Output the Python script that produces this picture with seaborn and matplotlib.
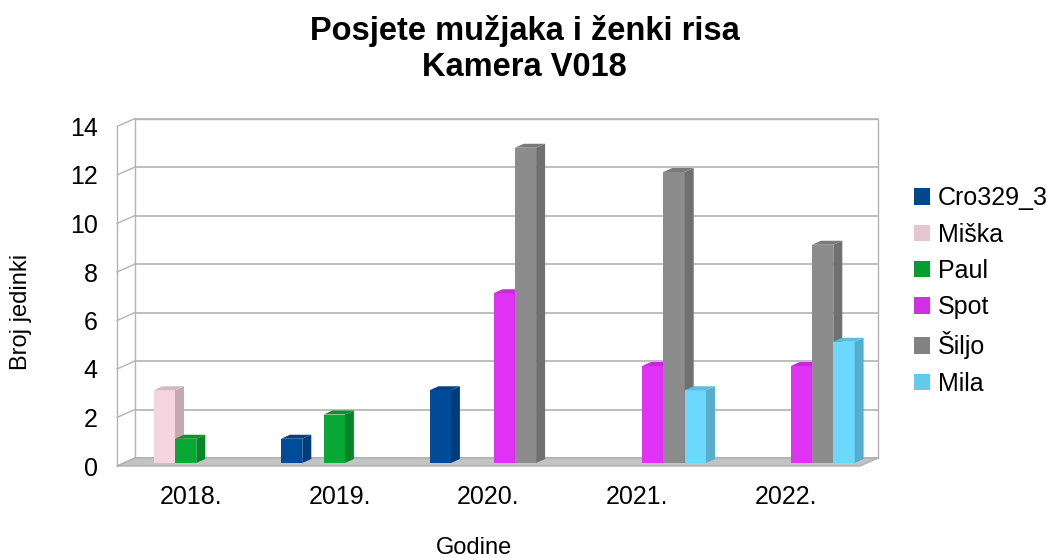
import matplotlib
matplotlib.use("Agg")
import matplotlib.pyplot as plt
import matplotlib.transforms as mtransforms
from matplotlib.colors import to_rgb
from matplotlib.patches import Polygon, Patch
from matplotlib.lines import Line2D
import numpy as np
import pandas as pd
import seaborn as sns

# ---- data ----
years = ['2018.', '2019.', '2020.', '2021.', '2022.']
lynx = ['Cro329_3', 'Miška', 'Paul', 'Spot', 'Šiljo', 'Mila']
cro329_3 = [0, 1, 3, 0, 0]
miska = [3, 0, 0, 0, 0]
paul = [1, 2, 0, 0, 0]
spot = [0, 0, 7, 4, 4]
siljo = [0, 0, 13, 12, 9]
mila = [0, 0, 0, 3, 5]
colors = ['#004c99', '#f6d5e1', '#07a833', '#e032f5', '#8c8c8c', '#6dd8fe']
yticks = [0, 2, 4, 6, 8, 10, 12, 14]

df = pd.DataFrame({
    'Godina': years * len(lynx),
    'Ris': np.repeat(lynx, len(years)),
    'Broj': cro329_3 + miska + paul + spot + siljo + mila,
})

sns.set_style('white')
plt.rcParams['font.family'] = ['Liberation Sans', 'DejaVu Sans']
plt.rcParams['text.color'] = 'black'
plt.rcParams['xtick.color'] = 'black'
plt.rcParams['ytick.color'] = 'black'

W, H = 1049, 558
fig = plt.figure(figsize=(W / 100, H / 100), dpi=100)
fig.patch.set_facecolor('white')
ax = fig.add_axes([122 / W, (H - 463) / H, 743 / W, 339.5 / H])

sns.barplot(data=df, x='Godina', y='Broj', hue='Ris', order=years, hue_order=lynx,
            palette=dict(zip(lynx, colors)), width=0.86, gap=0, saturation=1,
            linewidth=0, errorbar=None, legend=False, ax=ax)

ax.set_xlim(-0.5, 4.5)
ax.set_ylim(0, 14)
ax.patch.set_visible(False)
sns.despine(ax=ax, left=True, bottom=True)
ax.set_xlabel('')
ax.set_ylabel('')
ax.set_yticks(yticks)
ax.tick_params(length=0, labelsize=18, labelcolor='black')
ax.tick_params(axis='y', pad=14)
ax.tick_params(axis='x', pad=14)

# tick labels sit on the front plane of the 3d box
front = (-5, -3)
back = (13, 5)
depth = (9, 4)
shift = mtransforms.ScaledTranslation(front[0] / 100, front[1] / 100, fig.dpi_scale_trans)
for lab in ax.get_xticklabels() + ax.get_yticklabels():
    lab.set_transform(lab.get_transform() + shift)


def px(x, y, off=(0, 0)):
    X, Y = ax.transData.transform((x, y))
    return (X + off[0], Y + off[1])


def shade(c, f):
    return tuple(v * f for v in to_rgb(c))


ident = mtransforms.IdentityTransform()
grid_c = '#b3b3b3'

# back wall, floor and left wall
wall = Polygon([px(-0.5, 0, back), px(4.5, 0, back), px(4.5, 14, back), px(-0.5, 14, back)],
               closed=True, facecolor='white', edgecolor=grid_c, lw=1, transform=ident, zorder=-3)
fig.add_artist(wall)
for t in yticks:
    a, b = px(-0.5, t, back), px(4.5, t, back)
    fig.add_artist(Line2D([a[0], b[0]], [a[1], b[1]], color=grid_c, lw=1.2, transform=ident, zorder=-2))
    a, b = px(-0.5, t, front), px(-0.5, t, back)
    fig.add_artist(Line2D([a[0], b[0]], [a[1], b[1]], color=grid_c, lw=1, transform=ident, zorder=-2))
a, b = px(-0.5, 0, front), px(-0.5, 14, front)
fig.add_artist(Line2D([a[0], b[0]], [a[1], b[1]], color=grid_c, lw=1, transform=ident, zorder=-2))
floor = Polygon([px(-0.5, 0, front), px(4.5, 0, front), px(4.5, 0, back), px(-0.5, 0, back)],
                closed=True, facecolor='#c3c3c3', edgecolor='#b0b0b0', lw=1, transform=ident, zorder=-1)
fig.add_artist(floor)

# side and top faces of each bar
for i, cont in enumerate(ax.containers):
    for bar in cont:
        h = bar.get_height()
        bar.set_zorder(10 + 3 * i)
        if h <= 0:
            bar.set_visible(False)
            continue
        x0 = bar.get_x()
        x1 = x0 + bar.get_width()
        side = Polygon([px(x1, 0), px(x1, h), px(x1, h, depth), px(x1, 0, depth)], closed=True,
                       facecolor=shade(colors[i], 0.8), lw=0, transform=ident, zorder=11 + 3 * i)
        top = Polygon([px(x0, h), px(x1, h), px(x1, h, depth), px(x0, h, depth)], closed=True,
                      facecolor=shade(colors[i], 0.87), lw=0, transform=ident, zorder=11 + 3 * i)
        for p in (side, top):
            p.set_clip_on(False)
            ax.add_artist(p)

# legend
handles = [Patch(facecolor=shade(c, 0.93), edgecolor='none') for c in colors]
fig.legend(handles, lynx, loc='center left', bbox_to_anchor=(914 / W, 1 - 291 / H),
           frameon=False, fontsize=18, handlelength=0.64, handleheight=0.64,
           handletextpad=0.3, labelspacing=0.49, borderpad=0, borderaxespad=0)

# titles
fig.text(0.5, 1 - 15 / H, 'Posjete mužjaka i ženki risa\nKamera V018', ha='center', va='top',
         fontsize=23.5, fontweight='bold', linespacing=1.2)
fig.text(21 / W, 1 - 312 / H, 'Broj jedinki', rotation=90, ha='center', va='center', fontsize=17)
fig.text(474 / W, 1 - 548 / H, 'Godine', ha='center', va='center', fontsize=17)

fig.savefig('out.png', dpi=100, facecolor='white')
